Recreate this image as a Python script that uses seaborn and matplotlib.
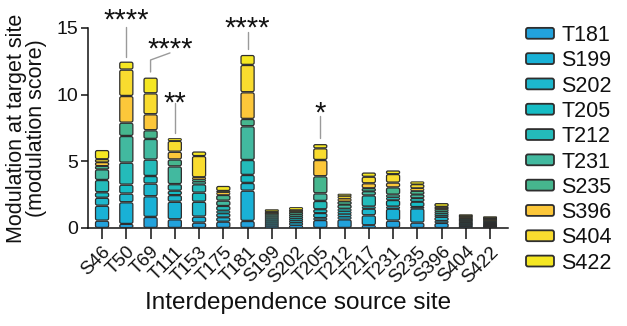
import numpy as np
import pandas as pd
import matplotlib
matplotlib.use("Agg")
import matplotlib.pyplot as plt
import seaborn as sns
from matplotlib.patches import FancyBboxPatch, Patch
from matplotlib.legend_handler import HandlerPatch

# ---------------- data ----------------
sources = ["S46", "T50", "T69", "T111", "T153", "T175", "T181", "S199", "S202",
           "T205", "T212", "T217", "T231", "S235", "S396", "S404", "S422"]
targets = ["T181", "S199", "S202", "T205", "T212", "T231", "S235", "S396", "S404", "S422"]

t181 = [0.55, 0.30, 0.83, 0.65, 0.40, 0.48, 0.53, 0.15, 0.20, 0.60, 0.65, 0.20, 0.55, 0.40, 0.38, 0.10, 0.09]
s199 = [1.12, 1.63, 1.55, 1.32, 0.45, 0.32, 2.27, 0.15, 0.20, 0.15, 0.20, 0.75, 0.90, 1.07, 0.15, 0.10, 0.08]
s202 = [0.60, 0.65, 0.95, 0.50, 1.12, 0.30, 0.58, 0.15, 0.15, 0.37, 0.20, 0.50, 0.15, 0.10, 0.30, 0.10, 0.08]
t205 = [0.41, 0.67, 0.57, 0.32, 0.68, 0.20, 0.60, 0.15, 0.15, 0.28, 0.20, 0.15, 0.50, 0.40, 0.12, 0.10, 0.08]
t212 = [0.92, 1.65, 1.23, 0.50, 0.63, 0.35, 1.12, 0.15, 0.15, 0.63, 0.20, 0.85, 0.20, 0.27, 0.15, 0.10, 0.08]
t231 = [0.80, 2.00, 1.55, 1.33, 0.20, 0.40, 2.53, 0.15, 0.15, 0.57, 0.30, 0.30, 0.20, 0.27, 0.15, 0.10, 0.08]
s235 = [0.25, 1.00, 0.65, 0.52, 0.17, 0.43, 0.55, 0.15, 0.15, 1.28, 0.25, 0.23, 0.55, 0.27, 0.15, 0.10, 0.08]
s396 = [0.28, 2.00, 1.20, 0.58, 0.15, 0.20, 2.00, 0.10, 0.10, 1.22, 0.20, 0.37, 0.35, 0.20, 0.10, 0.10, 0.09]
s404 = [0.22, 1.98, 1.57, 0.82, 1.60, 0.10, 2.05, 0.10, 0.10, 0.88, 0.20, 0.50, 0.65, 0.30, 0.10, 0.10, 0.09]
s422 = [0.70, 0.60, 1.18, 0.18, 0.33, 0.37, 0.75, 0.13, 0.20, 0.30, 0.15, 0.30, 0.25, 0.20, 0.25, 0.10, 0.10]

series = [t181, s199, s202, t205, t212, t231, s235, s396, s404, s422]
colors = ["#22a2dc", "#19b1d6", "#1db7cd", "#16bcc4", "#24bbba",
          "#42b99f", "#46b68e", "#fcc73a", "#f9dc2f", "#f5e722"]

# significance annotations
sig_sources = ["T50", "T69", "T111", "T181", "T205"]
sig_labels = ["****", "****", "**", "****", "*"]

EDGE = "#2e2e2e"
INK = "#111111"

sns.set_style("ticks")
plt.rcParams["font.family"] = ["Liberation Sans", "DejaVu Sans"]
plt.rcParams["text.color"] = INK
plt.rcParams["axes.labelcolor"] = INK
plt.rcParams["xtick.color"] = INK
plt.rcParams["ytick.color"] = INK

fig = plt.figure(figsize=(6.27, 3.26), dpi=100)
ax = fig.add_axes([88 / 627, 1 - 228 / 326, 420 / 627, 200 / 326])

df = pd.DataFrame({t: v for t, v in zip(targets, series)}, index=sources)
cum = df.cumsum(axis=1)

ASPECT = 1.8
for i, t in enumerate(targets):
    n0 = len(ax.patches)
    sns.barplot(x=sources, y=cum[t].values, order=sources, color=colors[i],
                width=0.54, errorbar=None, ax=ax)
    new = ax.patches[n0:]
    for p, seg in zip(new, df[t].values):
        x0, w, top = p.get_x(), p.get_width(), p.get_height()
        p.remove()
        bottom = top - seg
        inset = min(0.045, seg * 0.1)
        h = seg - 2 * inset
        r = max(0.0, min(0.07, h / ASPECT / 2, w / 2))
        lw = 0.9 if seg > 0.2 else 0.7
        fb = FancyBboxPatch((x0, bottom + inset), w, h,
                            boxstyle=f"round,pad=0,rounding_size={r}",
                            mutation_aspect=ASPECT,
                            fc=colors[i], ec=EDGE, lw=lw, zorder=3)
        ax.add_patch(fb)

ax.set_xlim(-0.58, 16.74)
ax.set_ylim(0, 15)
ax.set_yticks([0, 5, 10, 15])
sns.despine(ax=ax)
for s in ["left", "bottom"]:
    ax.spines[s].set_linewidth(1.1)
    ax.spines[s].set_color(INK)
ax.tick_params(axis="x", length=8, width=1.1, pad=3, labelsize=13.5)
ax.tick_params(axis="y", length=5, width=1.1, pad=2, labelsize=14)
for lab in ax.get_xticklabels():
    lab.set_rotation(45)
    lab.set_ha("right")
    lab.set_va("top")
    lab.set_rotation_mode("anchor")

ax.set_ylabel("Modulation at target site\n(modulation score)", fontsize=15.5, linespacing=0.92)
ax.yaxis.set_label_coords(-0.098, 0.5)
ax.set_xlabel("Interdependence source site", fontsize=17.5)
ax.xaxis.set_label_coords(0.5, -0.32)

# significance marks
totals = df.sum(axis=1)
line_col = "#9a9a9a"
lines_spec = {
    "T50": (0.35, 2.6),
    "T111": (0.40, 2.65),
    "T181": (0.45, 1.72),
    "T205": (0.47, 2.12),
}
text_base = {"T50": 14.95, "T69": 12.8, "T111": 8.75, "T181": 14.35, "T205": 8.0}
for src, lab in zip(sig_sources, sig_labels):
    xi = sources.index(src)
    tot = totals[src]
    if src == "T69":
        ax.plot([xi, xi, xi + 0.8], [tot + 0.42, tot + 1.32, tot + 1.85],
                color=line_col, lw=1.0, clip_on=False, zorder=2)
        tx = xi + 0.83
    else:
        a, b = lines_spec[src]
        ax.plot([xi, xi], [tot + a, tot + b], color=line_col, lw=1.0,
                clip_on=False, zorder=2)
        tx = xi
    ax.text(tx, text_base[src], lab, ha="center", va="baseline", fontsize=21,
            clip_on=False)

# legend with rounded handles
class RoundHandler(HandlerPatch):
    def create_artists(self, legend, orig_handle, xdescent, ydescent, width,
                       height, fontsize, trans):
        p = FancyBboxPatch((-xdescent, -ydescent), width, height,
                           boxstyle="round,pad=0,rounding_size=1.5",
                           fc=orig_handle.get_facecolor(), ec=EDGE, lw=1.3,
                           transform=trans)
        return [p]

handles = [Patch(facecolor=c, label=t) for t, c in zip(targets, colors)]
fig.legend(handles=handles, loc="upper left",
           bbox_to_anchor=(526 / 627, 1 - 25 / 326), bbox_transform=fig.transFigure,
           frameon=False, fontsize=15.5, borderpad=0, borderaxespad=0,
           handlelength=1.3, handleheight=0.4, handletextpad=0.35,
           labelspacing=0.2, handler_map={Patch: RoundHandler()})

fig.savefig("out.png", dpi=100)
